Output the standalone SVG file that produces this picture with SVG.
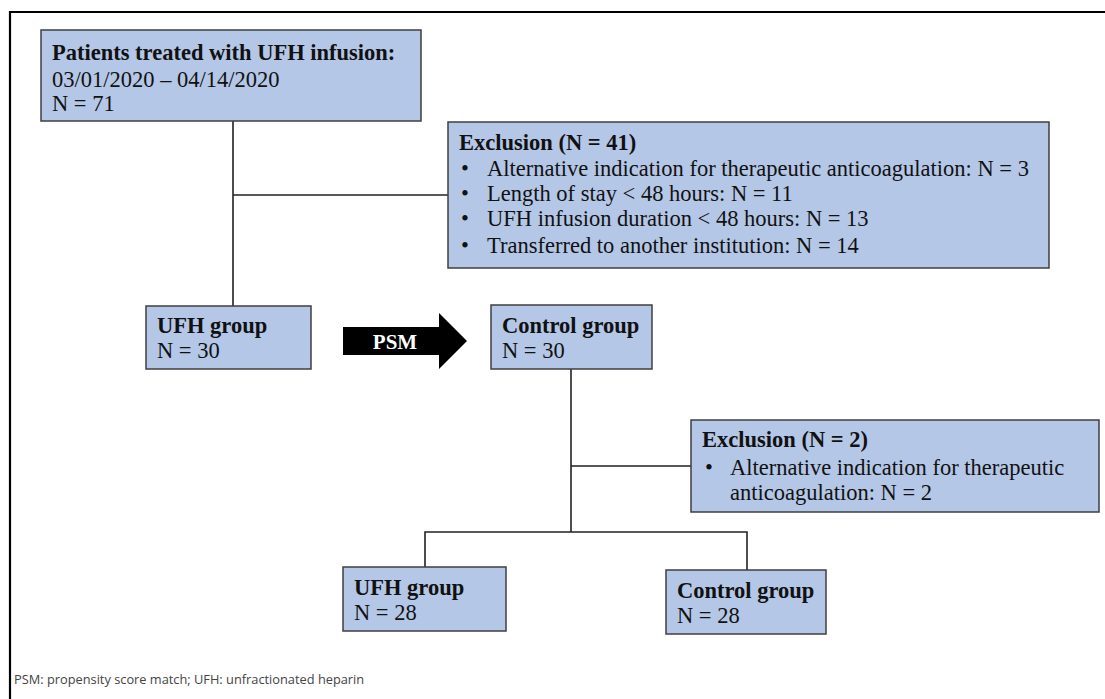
<svg xmlns="http://www.w3.org/2000/svg" width="1105" height="699" viewBox="0 0 1105 699">
<style>
.box{fill:#b4c7e7;stroke:#3f3f3f;stroke-width:1.5}
.t{font-family:"Liberation Serif","Times New Roman",serif;font-size:22.5px;fill:#111}
.b{font-weight:bold}
.ln{stroke:#222;stroke-width:1.6;fill:none}
.note{font-family:"Open Sans","Liberation Sans",sans-serif;font-size:12.8px;fill:#444}
</style>
<rect width="1105" height="699" fill="#fff"/>
<g id="frame"><path d="M9 12H1105M10 11V699" stroke="#000" stroke-width="2.2" fill="none"/></g>
<g id="connectors">
<path class="ln" d="M233 121V306M233 195H448"/>
<path class="ln" d="M571 369V532M571 466H691"/>
<path class="ln" d="M425 567V532H747V570"/>
</g>
<g id="n-start">
<rect class="box" x="41" y="30" width="380" height="91"/>
<text class="t b" x="52" y="60">Patients treated with UFH infusion:</text>
<text class="t" x="52" y="87">03/01/2020 – 04/14/2020</text>
<text class="t" x="52" y="111">N = 71</text>
</g>
<g id="n-excl1">
<rect class="box" x="448" y="122" width="601" height="146"/>
<text class="t b" x="459" y="150">Exclusion (N = 41)</text>
<text class="t" x="461" y="176">•</text><text class="t" x="487" y="176">Alternative indication for therapeutic anticoagulation: N = 3</text>
<text class="t" x="461" y="201">•</text><text class="t" x="487" y="201">Length of stay &lt; 48 hours: N = 11</text>
<text class="t" x="461" y="226">•</text><text class="t" x="487" y="226">UFH infusion duration &lt; 48 hours: N = 13</text>
<text class="t" x="461" y="253">•</text><text class="t" x="487" y="253">Transferred to another institution: N = 14</text>
</g>
<g id="n-ufh30">
<rect class="box" x="146" y="306" width="165" height="63"/>
<text class="t b" x="157" y="333">UFH group</text>
<text class="t" x="157" y="358">N = 30</text>
</g>
<g id="psm">
<polygon points="343,327 439,327 439,313 467,341 439,369 439,355 343,355" fill="#000"/>
<text x="395" y="349" text-anchor="middle" font-family="Liberation Serif, serif" font-weight="bold" font-size="21" fill="#fff">PSM</text>
</g>
<g id="n-ctrl30">
<rect class="box" x="491" y="305" width="161" height="64"/>
<text class="t b" x="502" y="333">Control group</text>
<text class="t" x="502" y="358">N = 30</text>
</g>
<g id="n-excl2">
<rect class="box" x="691" y="420" width="408" height="92"/>
<text class="t b" x="702" y="447">Exclusion (N = 2)</text>
<text class="t" x="705" y="475">•</text><text class="t" x="730" y="475">Alternative indication for therapeutic</text>
<text class="t" x="730" y="500">anticoagulation: N = 2</text>
</g>
<g id="n-ufh28">
<rect class="box" x="343" y="567" width="163" height="64"/>
<text class="t b" x="354" y="595">UFH group</text>
<text class="t" x="354" y="620">N = 28</text>
</g>
<g id="n-ctrl28">
<rect class="box" x="666" y="570" width="160" height="64"/>
<text class="t b" x="677" y="598">Control group</text>
<text class="t" x="677" y="623">N = 28</text>
</g>
<text class="note" x="14" y="684">PSM: propensity score match; UFH: unfractionated heparin</text>
</svg>
